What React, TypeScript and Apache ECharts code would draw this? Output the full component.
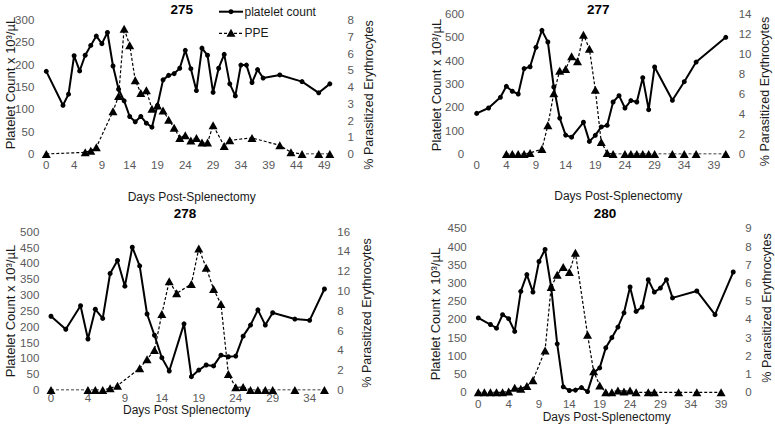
import React, { useEffect, useRef } from "react";
import * as echarts from "echarts";

const FONT = '"Liberation Sans", Arial, Helvetica, sans-serif';

// ---- Data (x = days on the axis scale; the first tick is labelled "0") ----
// Mouse 275
const days275 = [-1, 2, 3, 4, 5, 6, 7, 8, 9, 10, 11, 12, 13, 14, 15, 16, 17, 18, 19, 20, 21, 22, 23, 24, 25, 26, 27, 28, 29, 30, 31, 32, 33, 34, 35, 36, 37, 38, 41, 45, 48, 50];
const platelets275 = [185, 109, 134, 220, 186, 221, 243, 264, 247, 272, 197, 145, 119, 84, 72, 84, 69, 60, 109, 166, 176, 180, 192, 232, 191, 142, 237, 221, 138, 192, 223, 157, 130, 199, 199, 160, 189, 170, 177, 162, 137, 157];
const ppeDays275 = [-1, 6, 7, 8, 11, 12, 13, 14, 15, 16, 17, 18, 19, 20, 21, 22, 23, 24, 25, 26, 27, 28, 29, 31, 32, 36, 41, 43, 45, 48, 50];
const ppe275 = [0, 0.1, 0.2, 0.4, 2.55, 3.46, 7.48, 6.5, 4.4, 3.64, 3.8, 2.7, 2.9, 2.6, 2.05, 1.57, 0.96, 1.12, 0.8, 0.96, 0.68, 0.68, 1.71, 0.48, 0.82, 0.96, 0.52, 0.1, 0, 0, 0];

// Mouse 277
const days277 = [-1, 1, 3, 4, 5, 6, 7, 8, 9, 10, 11, 12, 13, 14, 15, 17, 18, 19, 20, 21, 22, 23, 24, 25, 26, 27, 28, 29, 32, 34, 36, 41];
const platelets277 = [174, 197, 243, 290, 269, 257, 366, 374, 457, 530, 480, 287, 154, 81, 72, 136, 54, 80, 116, 123, 223, 250, 197, 229, 223, 327, 190, 373, 230, 310, 394, 500];
const ppeDays277 = [4, 5, 6, 7, 8, 10, 11, 12, 13, 14, 15, 16, 17, 18, 19, 20, 21, 22, 24, 25, 26, 27, 28, 29, 32, 34, 36, 41];
const ppe277 = [0, 0, 0, 0, 0.1, 0.5, 2.87, 6.07, 8.33, 8.5, 9.77, 9.27, 11.93, 10.53, 6.43, 1.2, 0.1, 0, 0, 0, 0, 0, 0, 0, 0, 0, 0, 0];

// Mouse 278
const days278 = [-1, 1, 3, 4, 5, 6, 7, 8, 9, 10, 11, 12, 13, 14, 15, 17, 18, 19, 20, 21, 22, 23, 24, 25, 26, 27, 28, 29, 32, 34, 36];
const platelets278 = [233, 192, 266, 161, 255, 226, 368, 409, 328, 451, 392, 240, 173, 102, 60, 209, 42, 63, 79, 76, 110, 105, 107, 170, 205, 253, 205, 244, 224, 220, 319];
const ppeDays278 = [-1, 4, 5, 6, 7, 8, 11, 12, 13, 14, 15, 16, 18, 19, 20, 21, 22, 23, 24, 25, 26, 27, 28, 29, 32, 36];
const ppe278 = [0, 0, 0, 0, 0.17, 0.44, 2.19, 3.1, 4.04, 7.68, 11.0, 9.77, 10.71, 14.3, 12.36, 10.2, 8.69, 1.62, 0.27, 0.3, 0, 0, 0, 0, 0, 0];

// Mouse 280
const days280 = [-1, 1, 2, 3, 4, 5, 6, 7, 8, 9, 10, 11, 12, 13, 14, 15, 16, 17, 18, 19, 20, 21, 22, 23, 24, 25, 26, 27, 28, 29, 30, 31, 35, 38, 41];
const platelets280 = [204, 186, 176, 213, 202, 167, 277, 323, 275, 359, 392, 289, 133, 15, 5, 6, 13, 2, 54, 67, 122, 150, 179, 218, 289, 222, 234, 309, 275, 286, 309, 259, 278, 213, 330];
const ppeDays280 = [-1, 0, 1, 2, 3, 4, 5, 6, 7, 8, 10, 11, 12, 13, 14, 15, 17, 18, 19, 20, 21, 22, 23, 24, 25, 27, 28, 32, 35, 39];
const ppe280 = [0, 0, 0, 0, 0, 0.04, 0.25, 0.2, 0.35, 0.66, 2.3, 5.78, 6.45, 6.88, 6.6, 7.66, 3.16, 1.15, 0.38, 0, 0, 0.1, 0.05, 0.1, 0, 0, 0, 0, 0, 0];

const titles = ["275", "277", "278", "280"];
const xAxisNames = ["Days Post-Splenectomy", "Days Post-Splenectomy", "Days Post Splenectomy", "Days Post-Splenectomy"];
const leftAxisName = "Platelet Count x 10\u00b3/\u00b5L";
const rightAxisName = "% Parasitized Erythrocytes";
const legendNames = ["platelet count", "PPE"];

const zip = (xs: number[], ys: number[]) => xs.map((x, i) => [x, ys[i]]);

// ---- Layout (positions only) ----
const panels = [
  {
    grid: { left: 46.3, top: 20, width: 289.1, height: 134 },
    xMax: 51, yMax: 300, yInt: 50, y2Max: 8, y2Int: 1,
    lm: 12, rm: 12, xm: 5,
    title: [181.7, 9.5], xName: [191.7, 196.7], lName: [10, 83], rName: [369, 95],
    plat: zip(days275, platelets275), ppe: zip(ppeDays275, ppe275),
  },
  {
    grid: { left: 476.7, top: 14, width: 255, height: 140 },
    xMax: 42, yMax: 600, yInt: 100, y2Max: 14, y2Int: 2,
    lm: 12.5, rm: 7, xm: 5,
    title: [598.3, 9.5], xName: [618.3, 195.5], lName: [436.7, 85], rName: [765, 91.5],
    plat: zip(days277, platelets277), ppe: zip(ppeDays277, ppe277),
  },
  {
    grid: { left: 51, top: 231.7, width: 280.8, height: 158.3 },
    xMax: 37, yMax: 500, yInt: 50, y2Max: 16, y2Int: 2,
    lm: 11.7, rm: 5.5, xm: 1.5,
    title: [185, 213.5], xName: [186.7, 410], lName: [10, 311], rName: [366.7, 313],
    plat: zip(days278, platelets278), ppe: zip(ppeDays278, ppe278),
  },
  {
    grid: { left: 478.3, top: 228.3, width: 261, height: 164 },
    xMax: 42, yMax: 450, yInt: 50, y2Max: 9, y2Int: 1,
    lm: 11.6, rm: 6, xm: 5.5,
    title: [605, 213.5], xName: [606.7, 417.3], lName: [435, 314], rName: [766.7, 308],
    plat: zip(days280, platelets280), ppe: zip(ppeDays280, ppe280),
  },
];

const TICK = { color: "#595959", fontSize: 11.5, fontFamily: FONT };
const NAME_COLOR = "#1a1a1a";

export default function App() {
  const ref = useRef<HTMLDivElement>(null);

  useEffect(() => {
    if (!ref.current) return;
    const chart = echarts.init(ref.current, undefined, { renderer: "svg" });

    const grid: any[] = [];
    const xAxis: any[] = [];
    const yAxis: any[] = [];
    const series: any[] = [];
    const graphic: any[] = [];

    panels.forEach((p, i) => {
      grid.push({ ...p.grid, containLabel: false, outerBoundsMode: "none" });
      xAxis.push({
        type: "value",
        gridIndex: i,
        min: -1,
        max: p.xMax,
        interval: 5,
        axisLine: { show: false },
        axisTick: { show: false },
        splitLine: { show: false },
        axisLabel: {
          ...TICK,
          margin: p.xm,
          showMaxLabel: false,
          formatter: (v: number) => {
            const r = Math.round(v);
            if ((r + 1) % 5 !== 0) return "";
            return r < 0 ? "0" : String(r);
          },
        },
      });
      yAxis.push({
        type: "value",
        gridIndex: i,
        position: "left",
        min: 0,
        max: p.yMax,
        interval: p.yInt,
        axisLine: { show: false },
        axisTick: { show: false },
        splitLine: { show: false },
        axisLabel: { ...TICK, margin: p.lm },
      });
      yAxis.push({
        type: "value",
        gridIndex: i,
        position: "right",
        min: 0,
        max: p.y2Max,
        interval: p.y2Int,
        axisLine: { show: false },
        axisTick: { show: false },
        splitLine: { show: false },
        axisLabel: { ...TICK, margin: p.rm },
      });
      series.push({
        type: "line",
        name: legendNames[0],
        xAxisIndex: i,
        yAxisIndex: 2 * i,
        data: p.plat,
        symbol: "circle",
        symbolSize: 5,
        lineStyle: { color: "#000", width: 2 },
        itemStyle: { color: "#000" },
        z: 2,
      });
      series.push({
        type: "line",
        name: legendNames[1],
        xAxisIndex: i,
        yAxisIndex: 2 * i + 1,
        data: p.ppe,
        symbol: "triangle",
        symbolSize: [9, 8],
        lineStyle: { color: "#000", width: 1.2, type: [3, 2] },
        itemStyle: { color: "#000" },
        z: 3,
      });

      graphic.push({
        type: "text",
        x: p.title[0],
        y: p.title[1],
        style: { text: titles[i], fill: "#000", fontSize: 13.5, fontWeight: "bold", fontFamily: FONT, align: "center", verticalAlign: "middle" },
      });
      graphic.push({
        type: "text",
        x: p.xName[0],
        y: p.xName[1],
        style: { text: xAxisNames[i], fill: NAME_COLOR, fontSize: 12, fontFamily: FONT, align: "center", verticalAlign: "middle" },
      });
      graphic.push({
        type: "text",
        x: p.lName[0],
        y: p.lName[1],
        rotation: Math.PI / 2,
        style: { text: leftAxisName, fill: NAME_COLOR, fontSize: 13, fontFamily: FONT, align: "center", verticalAlign: "middle" },
      });
      graphic.push({
        type: "text",
        x: p.rName[0],
        y: p.rName[1],
        rotation: Math.PI / 2,
        style: { text: rightAxisName, fill: NAME_COLOR, fontSize: 12.5, fontFamily: FONT, align: "center", verticalAlign: "middle" },
      });
    });

    // Legend (panel 275 only)
    const lx0 = 219, lx1 = 243, ly1 = 11.7, ly2 = 33.3;
    graphic.push(
      { type: "line", shape: { x1: lx0, y1: ly1, x2: lx1, y2: ly1 }, style: { stroke: "#000", lineWidth: 2 } },
      { type: "circle", shape: { cx: (lx0 + lx1) / 2, cy: ly1, r: 2.5 }, style: { fill: "#000" } },
      { type: "text", x: lx1 + 1.5, y: ly1, style: { text: legendNames[0], fill: NAME_COLOR, fontSize: 12, fontFamily: FONT, align: "left", verticalAlign: "middle" } },
      { type: "line", shape: { x1: lx0, y1: ly2, x2: lx1, y2: ly2 }, style: { stroke: "#000", lineWidth: 1.2, lineDash: [3, 2] } },
      {
        type: "polygon",
        shape: { points: [[(lx0 + lx1) / 2, ly2 - 4.5], [(lx0 + lx1) / 2 - 4.5, ly2 + 3.5], [(lx0 + lx1) / 2 + 4.5, ly2 + 3.5]] },
        style: { fill: "#000" },
      },
      { type: "text", x: lx1 + 1.5, y: ly2, style: { text: legendNames[1], fill: NAME_COLOR, fontSize: 12, fontFamily: FONT, align: "left", verticalAlign: "middle" } }
    );

    chart.setOption({
      animation: false,
      backgroundColor: "#fff",
      textStyle: { fontFamily: FONT },
      grid,
      xAxis,
      yAxis,
      series,
      graphic,
    });

    return () => chart.dispose();
  }, []);

  return (
    <div
      ref={ref}
      style={{ position: "absolute", left: 0, top: 0, width: 775, height: 425 }}
    />
  );
}
